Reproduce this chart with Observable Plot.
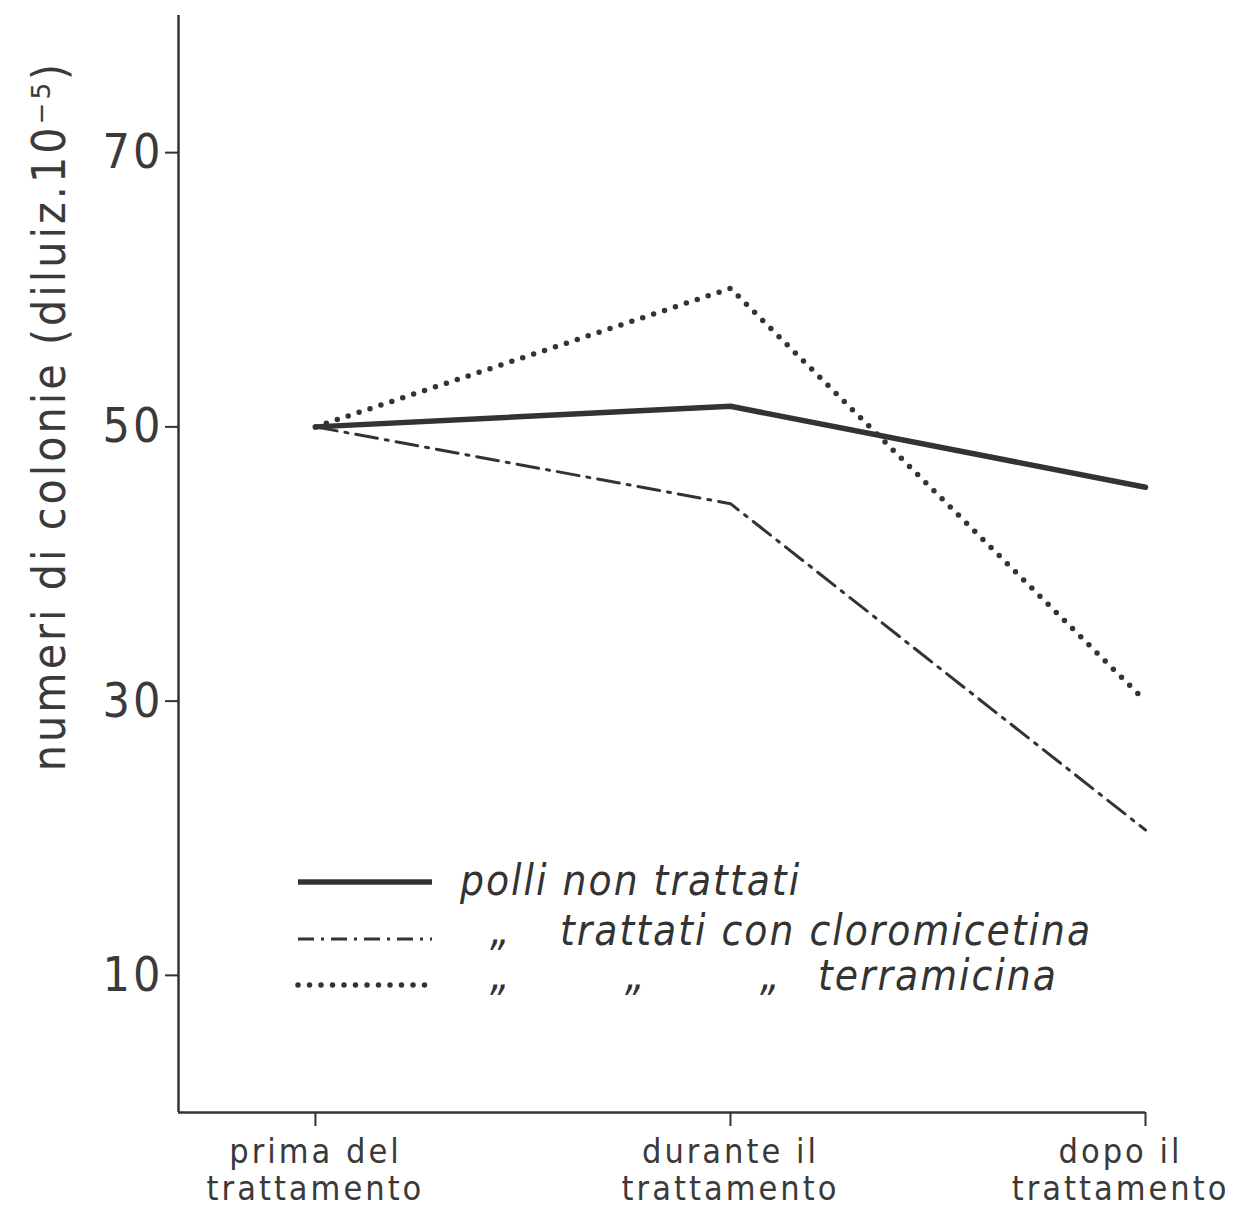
<!DOCTYPE html>
<html><head><meta charset="utf-8">
<script src="https://cdn.jsdelivr.net/npm/d3@7"></script>
<script src="https://cdn.jsdelivr.net/npm/@observablehq/plot@0.6"></script>
<style>
html,body{margin:0;padding:0;background:#fff;}
#wrap{position:relative;width:1234px;height:1209px;overflow:hidden;}
#legend{position:absolute;left:0;top:0;width:1234px;height:1209px;pointer-events:none;
  font-family:"DejaVu Sans Condensed","DejaVu Sans",sans-serif;font-stretch:condensed;font-style:italic;color:#333;font-size:42px;letter-spacing:2px;}
#legend .item{position:absolute;white-space:nowrap;line-height:1;}
#legend svg{position:absolute;}
</style></head><body><div id="wrap"></div>
<script>
// categories (x)
const phases = ["prima del\ntrattamento", "durante il\ntrattamento", "dopo il\ntrattamento"];
// series values (numeri di colonie, diluiz. 10^-5)
const nonTrattati   = [50, 51.5, 45.6];
const cloromicetina = [50, 44.4, 20.6];
const terramicina   = [50, 60.1, 30.0];
// y tick labels
const yTicks = [10, 30, 50, 70];
const yLabel = "numeri di colonie (diluiz.10⁻⁵)";
// legend texts
const legendRows = [
  ["polli non trattati"],
  ["„", "trattati con cloromicetina"],
  ["„", "„", "„", "terramicina"]
];

const ink = "#333";
const rows = (vals) => vals.map((v, i) => ({i, v}));
const idx = phases.map((_, i) => i);

const chart = Plot.plot({
  width: 1234, height: 1209,
  marginLeft: 178, marginRight: 89, marginTop: 15, marginBottom: 97,
  style: {fontFamily: "'DejaVu Sans Condensed','DejaVu Sans',sans-serif", color: ink, background: "#fff", overflow: "visible", letterSpacing: "3px"},
  x: {type: "linear", domain: [-0.33, 2]},
  y: {domain: [0, 80]},
  marks: [
    Plot.ruleX([-0.33], {stroke: ink, strokeWidth: 2.5}),
    Plot.ruleY([0], {stroke: ink, strokeWidth: 2.5}),
    Plot.axisY({ticks: yTicks, tickSize: 13, tickPadding: 2, fontSize: 48, label: null, strokeWidth: 2, fill: "#3a3a3a"}),
    Plot.axisX({ticks: idx, tickSize: 14, label: null, strokeWidth: 2, fill: "none"}),
    Plot.text(idx.filter((i) => i < 2), {x: (i) => i, text: (i) => phases[i], frameAnchor: "bottom", lineAnchor: "top", dy: 24, fontSize: 34, lineHeight: 1.1, fill: "#3a3a3a"}),
    Plot.text(idx.filter((i) => i === 2), {x: (i) => i, text: (i) => phases[i], frameAnchor: "bottom", lineAnchor: "top", dy: 24, dx: -25, fontSize: 34, lineHeight: 1.1, fill: "#3a3a3a"}),
    Plot.line(rows(nonTrattati), {x: "i", y: "v", stroke: ink, strokeWidth: 5.5, strokeLinejoin: "round"}),
    Plot.line(rows(cloromicetina), {x: "i", y: "v", stroke: ink, strokeWidth: 3, strokeDasharray: "22,8,3,8"}),
    Plot.line(rows(terramicina), {x: "i", y: "v", stroke: ink, strokeWidth: 5.5, strokeLinecap: "round", strokeDasharray: "0,11.5"}),
    Plot.text([yLabel], {frameAnchor: "left", textAnchor: "middle", dx: -128, dy: -148, rotate: -90, fontSize: 46, fill: "#3a3a3a"})
  ]
});
const wrap = document.getElementById("wrap");
wrap.appendChild(chart);

// legend overlay (inside the plot area, as in the original)
const legend = d3.select(wrap).append("div").attr("id", "legend");
const lineY = [882, 939, 985];
const baseY = [895, 945, 990];
const styles = [
  {w: 5.5, dash: null, cap: "butt"},
  {w: 3, dash: "16,7,3,7", cap: "butt"},
  {w: 5.5, dash: "0,11.5", cap: "round"}
];
const xPos = [[460], [490, 560], [490, 625, 760, 818]];
legendRows.forEach((parts, r) => {
  const s = legend.append("svg").attr("width", 140).attr("height", 20)
    .style("left", "295px").style("top", (lineY[r] - 10) + "px");
  s.append("line").attr("x1", 3).attr("x2", 137).attr("y1", 10).attr("y2", 10)
    .attr("stroke", ink).attr("stroke-width", styles[r].w)
    .attr("stroke-linecap", styles[r].cap)
    .attr("stroke-dasharray", styles[r].dash);
  parts.forEach((t, k) => {
    legend.append("div").attr("class", "item").text(t)
      .style("left", xPos[r][k] + "px").style("top", (baseY[r] - 35.5) + "px");
  });
});
</script>
</body></html>
